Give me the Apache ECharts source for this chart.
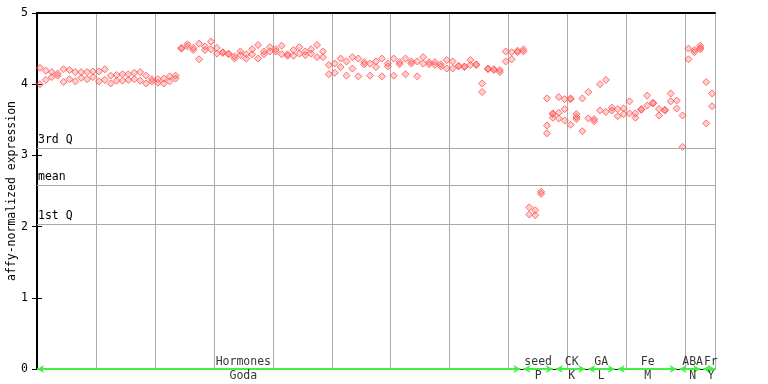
<!DOCTYPE html>
<html>
<head>
<meta charset="utf-8">
<script src="https://cdn.jsdelivr.net/npm/echarts@6/dist/echarts.min.js"></script>
<style>html,body{margin:0;padding:0;background:#fff}#c{width:768px;height:384px}</style>
</head>
<body>
<div id="c"></div>
<script>
// replicate values per sample column (index 0..114)
const rep1 = [4.23,4.19,4.17,4.15,4.21,4.20,4.17,4.17,4.17,4.18,4.18,4.21,4.12,4.13,4.14,4.14,4.16,4.17,4.12,4.07,
4.07,4.08,4.11,4.12,4.50,4.56,4.51,4.57,4.53,4.60,4.51,4.44,4.43,4.39,4.46,4.42,4.49,4.55,4.46,4.52,
4.49,4.54,4.42,4.48,4.52,4.46,4.49,4.55,4.46,4.27,4.29,4.36,4.32,4.38,4.36,4.31,4.29,4.32,4.36,4.29,
4.36,4.31,4.36,4.32,4.32,4.38,4.31,4.31,4.28,4.34,4.32,4.26,4.25,4.34,4.28,4.01,4.22,4.21,4.20,4.46,
4.45,4.47,4.49,2.27,2.23,2.49,3.80,3.59,3.82,3.79,3.80,3.58,3.80,3.89,3.51,4.00,4.06,3.67,3.65,3.66,
3.76,3.59,3.65,3.84,3.74,3.65,3.64,3.87,3.77,3.56,4.50,4.48,4.54,4.03,3.87];
const rep2 = [4.00,4.06,4.10,4.12,4.03,4.07,4.04,4.09,4.07,4.10,4.04,4.06,4.01,4.05,4.05,4.06,4.07,4.05,4.01,4.04,
4.02,4.01,4.04,4.08,4.51,4.53,4.48,4.35,4.48,4.49,4.43,4.45,4.42,4.36,4.41,4.36,4.42,4.36,4.42,4.46,
4.46,4.42,4.40,4.40,4.43,4.41,4.43,4.38,4.38,4.14,4.16,4.24,4.12,4.22,4.11,4.28,4.12,4.24,4.11,4.25,
4.12,4.28,4.14,4.29,4.11,4.29,4.28,4.27,4.25,4.22,4.22,4.25,4.24,4.27,4.27,3.89,4.21,4.20,4.17,4.32,
4.35,4.45,4.46,2.17,2.16,2.46,3.42,3.53,3.60,3.65,3.43,3.54,3.34,3.52,3.48,3.63,3.61,3.63,3.55,3.58,
3.59,3.53,3.64,3.70,3.73,3.56,3.63,3.76,3.66,3.12,4.35,4.45,4.49,3.45,3.69];
const rep3Index = [86,87,88,89,90,91,112];
const rep3 = [3.31,3.58,3.52,3.49,3.79,3.51,4.51];

const qLabels = ['3rd Q','mean','1st Q'];
const qValues = [3.10,2.58,2.03];

const groupNames = ['Hormones','seed','CK','GA','Fe','ABA','Fr'];
const groupCodes = ['Goda','P','K','L','M','N','Y'];
const groupStart = [0,82.5,88,93.5,98.5,109,113];
const groupEnd = [82,87.5,93,98,108.5,112.5,115];
const groupLabelAt = [35,85,90.7,95.7,103.6,111.2,114.3];

const yTicks = [0,1,2,3,4,5];
const yTitle = 'affy-normalized expression';

const FONT = 'DejaVu Sans Mono';
const RED = '#ff5050';

const points = [];
rep1.forEach((v,i)=>points.push([i+0.5,v]));
rep2.forEach((v,i)=>points.push([i+0.5,v]));
rep3.forEach((v,k)=>points.push([rep3Index[k]+0.5,v]));

const chart = echarts.init(document.getElementById('c'));
chart.setOption({
  animation:false,
  grid:{left:37,right:53,top:13,bottom:15,containLabel:false,outerBoundsMode:'none'},
  graphic:[{type:'text',x:12,y:191,rotation:Math.PI/2,
    style:{text:yTitle,fill:'#000',font:'11.5px "DejaVu Sans Mono"',textAlign:'center',textVerticalAlign:'middle'}}],
  xAxis:[
    {type:'value',min:0,max:115,interval:10,
     axisLine:{show:true,lineStyle:{color:'#000',width:1}},axisTick:{show:false},axisLabel:{show:false},
     splitLine:{show:true,lineStyle:{color:'#aaa',width:1}}},
    {type:'value',position:'top',min:0,max:115,
     axisLine:{show:true,onZero:false,lineStyle:{color:'#000',width:2}},axisTick:{show:false},axisLabel:{show:false},splitLine:{show:false}}
  ],
  yAxis:[
    {type:'value',min:yTicks[0],max:yTicks[yTicks.length-1],interval:1,
     axisLine:{show:true,lineStyle:{color:'#000',width:2}},
     axisTick:{show:true,inside:true,length:5,lineStyle:{color:'#000'}},
     axisLabel:{fontFamily:FONT,fontSize:11.5,color:'#000',margin:9},
     splitLine:{show:false}},
    {type:'value',position:'right',min:0,max:5,interval:1,
     axisLine:{show:true,lineStyle:{color:'#000',width:2}},
     axisTick:{show:true,inside:true,length:5,lineStyle:{color:'#000'}},
     axisLabel:{show:false},splitLine:{show:false}}
  ],
  series:[
    {type:'scatter',data:points,symbol:'diamond',symbolSize:7,
     itemStyle:{color:'rgba(255,80,80,0.35)',borderColor:RED,borderWidth:1},
     markLine:{silent:true,symbol:'none',
       lineStyle:{color:'#aaa',width:1,type:'solid'},
       label:{show:true,position:'insideStartTop',formatter:'{b}',fontFamily:FONT,fontSize:11.5,color:'#000',distance:[1,2]},
       data:qValues.map((v,i)=>({yAxis:v,name:qLabels[i]}))}
    },
    {type:'scatter',z:5,clip:false,symbolSize:0,
     data:groupLabelAt.map(x=>[x,0]),
     label:{show:true,position:'top',distance:1,fontFamily:FONT,fontSize:11.5,color:'#000',
       formatter:p=>groupNames[p.dataIndex]},
     markLine:{silent:true,symbol:['arrow','arrow'],symbolSize:[6,7],
       lineStyle:{color:'#44ee44',width:2,type:'solid'},label:{show:false},
       data:groupStart.map((s,i)=>[{coord:[s,0]},{coord:[groupEnd[i],0]}])}
    },
    {type:'scatter',z:5,clip:false,symbolSize:0,
     data:groupLabelAt.map(x=>[x,0]),
     label:{show:true,position:'bottom',distance:1,fontFamily:FONT,fontSize:11.5,color:'#000',
       formatter:p=>groupCodes[p.dataIndex]}
    }
  ]
});
</script>
</body>
</html>
